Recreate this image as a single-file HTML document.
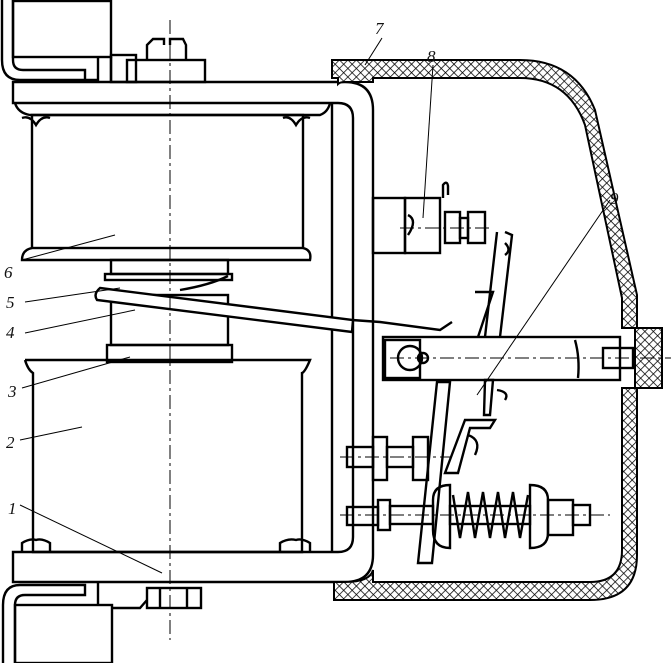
<!DOCTYPE html>
<html><head><meta charset="utf-8"><style>
html,body{margin:0;padding:0;background:#fff;width:671px;height:663px;overflow:hidden}
text{font-family:"Liberation Serif",serif;font-style:italic;font-size:17px;fill:#111}
</style></head><body>
<svg width="671" height="663" viewBox="0 0 671 663" xmlns="http://www.w3.org/2000/svg">
<defs>
<pattern id="h" width="6" height="6" patternUnits="userSpaceOnUse" patternTransform="rotate(45)">
<rect width="6" height="6" fill="#fff"/><line x1="0" y1="0" x2="0" y2="6" stroke="#000" stroke-width="1.5"/><line x1="0" y1="0" x2="6" y2="0" stroke="#000" stroke-width="1.5"/>
</pattern>
</defs>
<g fill="none" stroke="#000" stroke-width="2.4">
<!-- top left bracket -->
<path d="M2 0 V60 Q2 80 20 80 H98 M13 0 V60 Q13 70 23 70 H85 V80"/>
<rect x="13" y="1" width="98" height="56"/>
<path d="M98 57 V82 M111 57 V82"/>
<rect x="111" y="55" width="25" height="27"/>
<rect x="127" y="60" width="78" height="22"/>
<path d="M147 60 V45 L153 39 H164 V45 M170 45 V39 H183 L186 45 V60"/>
<!-- frame -->
<path d="M13 82 H345 Q373 82 373 110 V555 Q373 582 345 582 H13 V552 H338 Q353 552 353 537 V118 Q353 103 338 103 H13 Z"/>
<line x1="332" y1="103" x2="332" y2="552"/>
<!-- upper coil -->
<path d="M15 103 Q18 113 30 115 H320 Q328 112 330 103"/>
<rect x="32" y="115" width="271" height="133"/>
<path d="M32 248 Q22 250 22 260 H310 Q312 250 303 248"/>
<path d="M22 118 Q30 115 36 125 Q42 115 50 118 M283 118 Q290 115 296 125 Q302 115 310 118"/>
<!-- core pieces -->
<rect x="111" y="260" width="117" height="14"/>
<rect x="105" y="274" width="127" height="6"/>
<rect x="111" y="295" width="117" height="50"/>
<rect x="107" y="345" width="125" height="17"/>
<path d="M100 288 L353 320 L352 332 L97 300 Q93 294 100 288 Z" fill="#fff"/>
<path d="M180 290 Q210 285 228 276"/>
<!-- lower coil -->
<path d="M25 360 H310 Q305 372 302 373 V552 H33 V373 Q28 370 25 360"/>
<path d="M22 552 V543 Q30 538 36 540 Q42 538 50 543 V552 M280 552 V543 Q288 538 296 540 Q302 538 310 543 V552"/>
<!-- bottom bracket -->
<path d="M3 663 V605 Q3 585 20 585 H85 V595 H25 Q15 595 15 605 V663 M98 582 V605"/>
<rect x="15" y="605" width="97" height="58"/>
<path d="M112 608 H140 L147 600"/>
<rect x="147" y="588" width="54" height="20"/>
<path d="M160 588 V608 M187 588 V608"/>
<!-- component 8 -->
<rect x="373" y="198" width="32" height="55"/>
<rect x="405" y="198" width="35" height="55"/>
<path d="M408 215 Q418 220 408 235" />
<rect x="445" y="212" width="15" height="31"/>
<rect x="468" y="212" width="17" height="31"/>
<rect x="460" y="218" width="8" height="20"/>
<path d="M443 198 V185 Q447 180 448 186 V195"/>
<!-- upper contact arm -->
<path d="M505 232 L512 235 L500 337 M497 232 L485 337"/>
<path d="M475 292 L493 292 L478 337"/>
<path d="M505 243 Q512 250 505 255"/>
<!-- lever/bar -->
<path d="M352 320 L380 322 L440 330 L452 322"/>
<rect x="383" y="337" width="237" height="43"/>
<rect x="385" y="340" width="35" height="38"/>
<circle cx="410" cy="358" r="12"/><circle cx="423" cy="358" r="5"/>
<rect x="603" y="348" width="30" height="20"/>
<path d="M575 340 Q580 358 578 378"/>
<!-- contact plates -->
<path d="M437 382 L450 382 L432 563 L418 563 Z"/>
<path d="M465 420 L495 420 L490 428 L470 428 L458 473 L445 473 Z"/>
<path d="M485 380 L493 380 L490 415 L484 415 Z"/>
<path d="M497 390 Q510 392 505 400"/>
<path d="M468 435 Q482 440 475 455"/>
<!-- middle screw -->
<rect x="347" y="447" width="26" height="20"/>
<rect x="373" y="437" width="14" height="43"/>
<rect x="387" y="447" width="26" height="20"/>
<rect x="413" y="437" width="15" height="43"/>
<!-- bottom screw & spring -->
<rect x="347" y="507" width="31" height="18"/>
<rect x="378" y="500" width="12" height="30"/>
<rect x="390" y="506" width="43" height="18"/>
<path d="M433 500 Q433 485 450 485 V548 Q433 548 433 530 Z"/>
<path d="M453 495 L460 538 L468 492 L475 538 L483 492 L490 538 L498 492 L505 538 L513 492 L520 538 L528 495"/>
<rect x="450" y="506" width="80" height="18"/>
<path d="M530 485 Q548 485 548 500 V533 Q548 548 530 548 Z"/>
<rect x="548" y="500" width="25" height="35"/>
<rect x="573" y="505" width="17" height="20"/>
</g>
<!-- housing -->
<path d="M332 60 H520 Q575 60 595 110 L637 295 V328 H622 V298 L585 125 Q568 78 520 78 H373 V82 H345 Q340 82 338 84 V78 H332 Z" fill="url(#h)" stroke="#000" stroke-width="2"/>
<path d="M622 388 H637 V555 Q637 600 590 600 H334 V582 H345 Q370 582 373 570 V582 H590 Q622 582 622 550 Z" fill="url(#h)" stroke="#000" stroke-width="2"/>
<rect x="635" y="328" width="27" height="60" fill="url(#h)" stroke="#000" stroke-width="2"/>
<!-- center lines -->
<g stroke="#000" stroke-width="1" stroke-dasharray="14 4 3 4" fill="none">
<line x1="170" y1="20" x2="170" y2="640"/>
<line x1="340" y1="515" x2="610" y2="515"/>
<line x1="340" y1="457" x2="450" y2="457"/>
<line x1="400" y1="228" x2="490" y2="228"/>
<line x1="390" y1="358" x2="671" y2="358"/>
</g>
<!-- leader lines -->
<g stroke="#000" stroke-width="1" fill="none">
<line x1="22" y1="260" x2="115" y2="235"/>
<line x1="25" y1="302" x2="120" y2="288"/>
<line x1="25" y1="333" x2="135" y2="310"/>
<line x1="22" y1="388" x2="130" y2="357"/>
<line x1="20" y1="440" x2="82" y2="427"/>
<line x1="20" y1="505" x2="162" y2="573"/>
<line x1="382" y1="38" x2="365" y2="65"/>
<line x1="433" y1="65" x2="423" y2="218"/>
<line x1="610" y1="200" x2="477" y2="395"/>
</g>
<text x="4" y="278">6</text>
<text x="6" y="308">5</text>
<text x="6" y="338">4</text>
<text x="8" y="397">3</text>
<text x="6" y="448">2</text>
<text x="8" y="514">1</text>
<text x="375" y="34">7</text>
<text x="427" y="62">8</text>
<text x="610" y="204">9</text>
</svg>
</body></html>
